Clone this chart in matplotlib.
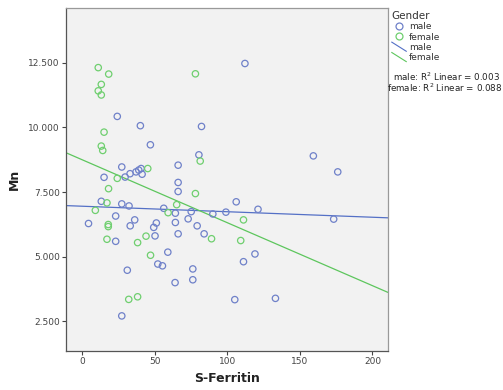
import numpy as np
import matplotlib
matplotlib.use('Agg')
import matplotlib.pyplot as plt
from matplotlib.lines import Line2D
from matplotlib.legend_handler import HandlerBase

# --- dados ---
male_ferritin = [112.2, 24.3, 40.2, 82.3, 47.1, 80.5, 66.2, 27.4, 15.2, 29.7,
                 33.1, 37.2, 39.1, 40.7, 41.4, 66.2, 66.2, 13.3, 27.4, 32.4,
                 56.3, 64.3, 75.2, 90.1, 99.1, 106.2, 121.2, 23.2, 4.5, 36.3,
                 33.2, 51.2, 49.4, 64.3, 73.1, 79.3, 23.2, 50.3, 66.2, 84.1,
                 59.1, 52.2, 55.4, 31.2, 119.1, 111.2, 76.3, 76.3, 64.1, 105.2,
                 27.4, 133.2, 159.3, 176.1, 173.3]
male_mn = [12.48, 10.43, 10.07, 10.04, 9.33, 8.94, 8.54, 8.47, 8.07, 8.08,
           8.21, 8.28, 8.35, 8.41, 8.19, 7.87, 7.52, 7.14, 7.04, 6.96,
           6.87, 6.68, 6.74, 6.65, 6.72, 7.12, 6.83, 6.57, 6.28, 6.42,
           6.19, 6.30, 6.13, 6.32, 6.46, 6.19, 5.59, 5.80, 5.88, 5.88,
           5.17, 4.71, 4.64, 4.47, 5.10, 4.80, 4.52, 4.10, 3.99, 3.33,
           2.70, 3.38, 8.90, 8.28, 6.45]

female_ferritin = [11.2, 18.4, 13.3, 11.2, 13.3, 78.1, 15.2, 13.3, 14.3, 81.4,
                   45.3, 24.3, 18.3, 78.1, 17.2, 65.2, 9.2, 59.3, 111.2, 18.1,
                   18.1, 17.2, 38.3, 44.1, 89.2, 109.3, 47.2, 38.3, 32.2]
female_mn = [12.32, 12.07, 11.67, 11.42, 11.26, 12.08, 9.82, 9.28, 9.11, 8.70,
             8.41, 8.03, 7.63, 7.44, 7.08, 7.01, 6.79, 6.70, 6.42, 6.24,
             6.16, 5.67, 5.54, 5.79, 5.69, 5.62, 5.05, 3.44, 3.34]

x_ticks = [0, 50, 100, 150, 200]
y_ticks = [2.5, 5.0, 7.5, 10.0, 12.5]

COR_M = '#6f81c9'
COR_F = '#6fcf6f'
LINHA_M = '#5470c6'
LINHA_F = '#5dc65d'

plt.rcParams['font.family'] = ['DejaVu Sans']

fig = plt.figure(figsize=(5.03, 3.90), dpi=100)
ax = fig.add_axes([66 / 503, 39 / 390, 322 / 503, 343 / 390])
ax.set_facecolor('#f2f2f2')

ax.scatter(male_ferritin, male_mn, s=21, facecolors='none', edgecolors=COR_M, linewidths=0.9, zorder=3)
ax.scatter(female_ferritin, female_mn, s=21, facecolors='none', edgecolors=COR_F, linewidths=0.9, zorder=3)

xlim = (-11, 210.7)
ax.set_xlim(*xlim)
ax.set_ylim(1.34, 14.63)

# retas de regressão (ajuste linear simples)
xx = np.array(xlim)
for xs, ys, cor in [(male_ferritin, male_mn, LINHA_M), (female_ferritin, female_mn, LINHA_F)]:
    b, a = np.polyfit(xs, ys, 1)
    ax.plot(xx, a + b * xx, color=cor, lw=0.9, zorder=2)

ax.set_xticks(x_ticks)
ax.set_yticks(y_ticks)
ax.set_yticklabels([f'{v:.3f}' for v in y_ticks])
ax.tick_params(axis='both', direction='out', length=3, width=0.8, color='#444444',
               labelsize=6.5, labelcolor='#444444', pad=1.5)
ax.tick_params(top=False, right=False)
for s in ax.spines.values():
    s.set_color('#555555')
    s.set_linewidth(0.9)
ax.spines['top'].set_color('#999999')
ax.spines['right'].set_color('#999999')

ax.set_xlabel('S-Ferritin', fontsize=9, fontweight='bold', color='#222222', labelpad=4)
ax.set_ylabel('Mn', fontsize=9, fontweight='bold', color='#222222', labelpad=5)


class HandlerDiag(HandlerBase):
    def create_artists(self, legend, orig_handle, xdescent, ydescent, width, height, fontsize, trans):
        l = Line2D([-xdescent, -xdescent + width], [height - ydescent + 1, -ydescent - 1],
                   color=orig_handle.get_color(), lw=0.8, transform=trans)
        return [l]


handles = [
    Line2D([], [], marker='o', ls='none', mfc='none', mec=COR_M, ms=5, mew=0.9),
    Line2D([], [], marker='o', ls='none', mfc='none', mec=COR_F, ms=5, mew=0.9),
    Line2D([], [], color=LINHA_M),
    Line2D([], [], color=LINHA_F),
]
labels = ['male', 'female', 'male', 'female']
leg = fig.legend(handles, labels, title='Gender', loc='upper left',
                 bbox_to_anchor=(390 / 503, 1 - 9 / 390), frameon=False,
                 fontsize=6.5, title_fontsize=7.5, handlelength=1.6, handletextpad=0.3,
                 labelspacing=0.15, borderaxespad=0, borderpad=0.2,
                 handler_map={handles[2]: HandlerDiag(), handles[3]: HandlerDiag()})
leg._legend_box.align = 'left'
for t in leg.get_texts():
    t.set_color('#333333')
leg.get_title().set_color('#333333')

fig.text(500 / 503, 1 - 77 / 390, 'male: R$^2$ Linear = 0.003', ha='right', va='center',
         fontsize=6.3, color='#222222')
fig.text(503 / 503, 1 - 88 / 390, 'female: R$^2$ Linear = 0.088', ha='right', va='center',
         fontsize=6.3, color='#222222')

fig.savefig('out.png', dpi=100)
